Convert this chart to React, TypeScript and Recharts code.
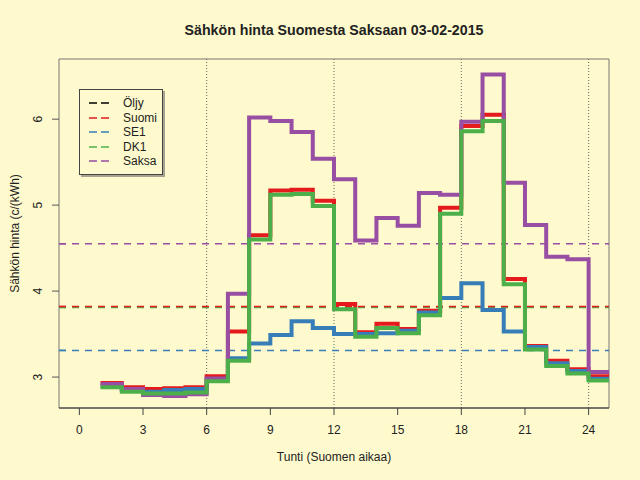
import { CartesianGrid, Line, LineChart, ReferenceArea, ReferenceLine, XAxis, YAxis, Label } from "recharts";

const hours = [1, 2, 3, 4, 5, 6, 7, 8, 9, 10, 11, 12, 13, 14, 15, 16, 17, 18, 19, 20, 21, 22, 23, 24];

const suomi = [2.93, 2.88, 2.86, 2.87, 2.88, 3.01, 3.53, 4.65, 5.17, 5.18, 5.05, 3.85, 3.52, 3.62, 3.56, 3.77, 4.97, 5.92, 6.05, 4.14, 3.36, 3.19, 3.09, 3.01];
const se1 = [2.89, 2.85, 2.83, 2.85, 2.86, 2.98, 3.22, 3.39, 3.49, 3.65, 3.57, 3.5, 3.5, 3.51, 3.54, 3.75, 3.92, 4.09, 3.78, 3.53, 3.35, 3.16, 3.07, 2.98];
const dk1 = [2.88, 2.83, 2.81, 2.81, 2.82, 2.95, 3.19, 4.6, 5.12, 5.13, 4.99, 3.79, 3.47, 3.57, 3.51, 3.72, 4.9, 5.86, 5.98, 4.08, 3.32, 3.13, 3.04, 2.96];
const saksa = [2.92, 2.86, 2.79, 2.78, 2.8, 2.98, 3.97, 6.02, 5.98, 5.85, 5.54, 5.3, 4.59, 4.85, 4.76, 5.14, 5.12, 5.97, 6.52, 5.26, 4.77, 4.4, 4.37, 3.06];

// daily averages (dashed lines)
const averages = [
  { key: "saksa", value: 4.55, color: "#984EA3" },
  { key: "dk1", value: 3.81, color: "#4DAF4A" },
  { key: "suomi", value: 3.82, color: "#E41A1C" },
  { key: "se1", value: 3.31, color: "#377EB8" },
];

const xTicks = [0, 3, 6, 9, 12, 15, 18, 21, 24];
const yTicks = [3, 4, 5, 6];
const markerHours = [6, 12, 18, 24];

const legendItems = [
  { name: "Öljy", color: "#000000" },
  { name: "Suomi", color: "#E41A1C" },
  { name: "SE1", color: "#377EB8" },
  { name: "DK1", color: "#4DAF4A" },
  { name: "Saksa", color: "#984EA3" },
];

const rows = hours.map((h, i) => ({ hour: h, suomi: suomi[i], se1: se1[i], dk1: dk1[i], saksa: saksa[i] }));
// last hour lasts until the next one
const last = rows[rows.length - 1];
rows.push({ ...last, hour: last.hour + 1 });

const X_DOMAIN: [number, number] = [-0.96, 24.96];
const Y_DOMAIN: [number, number] = [2.64, 6.7];
const FONT = "'Liberation Sans', Arial, Helvetica, sans-serif";
const BG = "#FFFACD";

function YTick(props: any) {
  const { x, y, payload } = props;
  const avg = averages.find((a) => a.value === payload.value);
  if (avg) {
    return <line x1={x} x2={x + 7} y1={y} y2={y} stroke={avg.color} strokeWidth={1.5} />;
  }
  return (
    <g>
      <line x1={x - 7} x2={x} y1={y} y2={y} stroke="#555" strokeWidth={1} />
      <text
        x={x - 21}
        y={y}
        transform={`rotate(-90 ${x - 21} ${y})`}
        textAnchor="middle"
        dominantBaseline="central"
        fontSize={12}
        fill="#222"
        fontFamily={FONT}
      >
        {payload.value}
      </text>
    </g>
  );
}

function LegendBox() {
  return (
    <div
      style={{
        position: "absolute",
        left: 79,
        top: 89,
        width: 84,
        height: 86,
        border: "1px solid #444",
        boxShadow: "2px 2px 0 #a8a290",
        fontFamily: FONT,
        fontSize: 12,
        color: "#222",
        boxSizing: "border-box",
        paddingTop: 6,
      }}
    >
      {legendItems.map((item) => (
        <div key={item.name} style={{ display: "flex", alignItems: "center", height: 14.5, whiteSpace: "nowrap" }}>
          <svg width={35} height={10} style={{ marginLeft: 8, flexShrink: 0 }}>
            <line x1={1} x2={21} y1={5} y2={5} stroke={item.color} strokeWidth={1.6} strokeDasharray="8 4" />
          </svg>
          <span>{item.name}</span>
        </div>
      ))}
    </div>
  );
}

export default function App() {
  return (
    <div style={{ position: "absolute", left: 0, top: 0, width: 640, height: 480, background: BG, fontFamily: FONT }}>
      <div
        style={{
          position: "absolute",
          left: 134,
          top: 21,
          width: 400,
          textAlign: "center",
          fontWeight: "bold",
          fontSize: 14.2,
          lineHeight: "18px",
          color: "#222",
        }}
      >
        Sähkön hinta Suomesta Saksaan 03-02-2015
      </div>
      <LineChart width={640} height={480} data={rows} margin={{ top: 59, right: 31, left: 0, bottom: 0 }}>
        <CartesianGrid stroke="none" />
        <ReferenceArea
          x1={X_DOMAIN[0]}
          x2={X_DOMAIN[1]}
          y1={Y_DOMAIN[0]}
          y2={Y_DOMAIN[1]}
          fill="none"
          stroke="#777"
          strokeWidth={1}
          ifOverflow="visible"
        />
        <XAxis
          dataKey="hour"
          type="number"
          domain={X_DOMAIN}
          allowDataOverflow
          ticks={xTicks}
          interval={0}
          height={72}
          tickSize={7}
          tickMargin={10}
          tick={{ fontSize: 12, fill: "#222", fontFamily: FONT }}
          tickLine={{ stroke: "#444" }}
          axisLine={{ stroke: "#333" }}
        >
          <Label value="Tunti (Suomen aikaa)" position="insideBottom" offset={19} fontSize={12} fill="#222" fontFamily={FONT} />
        </XAxis>
        <YAxis
          type="number"
          domain={Y_DOMAIN}
          allowDataOverflow
          ticks={[...yTicks, ...averages.map((a) => a.value)]}
          interval={0}
          width={59}
          tickSize={0}
          tickMargin={0}
          tickLine={false}
          axisLine={false}
          tick={YTick}
        >
          <Label
            value="Sähkön hinta (c/(kWh)"
            angle={-90}
            position="insideLeft"
            offset={15}
            fontSize={12}
            fill="#222"
            fontFamily={FONT}
            style={{ textAnchor: "middle" }}
          />
        </YAxis>
        {markerHours.map((h) => (
          <ReferenceLine key={h} x={h} stroke="#666" strokeWidth={1} strokeDasharray="1 2" />
        ))}
        {averages.map((a) => (
          <ReferenceLine key={a.key} y={a.value} stroke={a.color} strokeWidth={1.5} strokeDasharray="7 6" />
        ))}
        <Line dataKey="suomi" type="stepAfter" stroke="#E41A1C" strokeWidth={4} dot={false} isAnimationActive={false} />
        <Line dataKey="se1" type="stepAfter" stroke="#377EB8" strokeWidth={4} dot={false} isAnimationActive={false} />
        <Line dataKey="saksa" type="stepAfter" stroke="#984EA3" strokeWidth={4} dot={false} isAnimationActive={false} />
        <Line dataKey="dk1" type="stepAfter" stroke="#4DAF4A" strokeWidth={4} dot={false} isAnimationActive={false} />
      </LineChart>
      <LegendBox />
    </div>
  );
}
